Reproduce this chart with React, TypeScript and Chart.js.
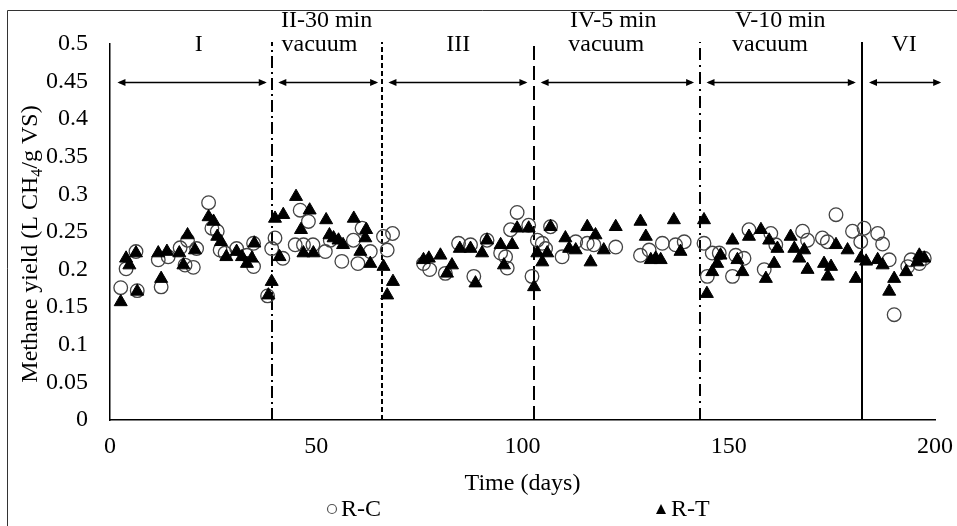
import React, { useEffect, useRef } from "react";
import { Chart, registerables } from "chart.js";

Chart.register(...registerables);

const rcDays = [2.6,3.9,6.3,6.6,11.7,12.4,14.1,17,18.2,18.8,20.2,21,23.9,24.7,26,26.7,27.9,30.7,33.2,34.8,34.8,38.2,39.2,40,41.9,44.9,46.1,46.9,48.1,49.2,52.2,53.4,56.2,59,60.1,61.1,63.1,66.3,67.2,68.5,76,77.5,81.3,84.5,87.4,88.2,91.4,94.7,95.9,96.3,97.1,98.7,101.5,102.3,103.6,104.8,105.6,106.8,109.6,112.9,115.7,117.3,122.6,128.6,130.7,133.9,137.1,139.2,144,144.8,146,147.7,150.9,151.7,153.7,154.9,158.6,160.2,161.4,167.9,169.1,172.7,173.9,176,180,182,182.8,186.1,187.3,188.9,190.1,193.4,194.2,196.2,197.4];
const rcYield = [0.176,0.201,0.224,0.172,0.213,0.177,0.217,0.229,0.206,0.239,0.203,0.228,0.289,0.255,0.251,0.226,0.222,0.228,0.219,0.204,0.235,0.165,0.228,0.242,0.215,0.233,0.279,0.233,0.264,0.233,0.224,0.239,0.211,0.239,0.208,0.255,0.224,0.244,0.226,0.248,0.208,0.2,0.195,0.235,0.233,0.191,0.239,0.222,0.217,0.202,0.253,0.276,0.259,0.191,0.239,0.235,0.228,0.257,0.217,0.237,0.235,0.233,0.23,0.219,0.226,0.235,0.233,0.237,0.235,0.191,0.222,0.222,0.191,0.219,0.215,0.253,0.2,0.248,0.233,0.251,0.239,0.242,0.237,0.273,0.251,0.237,0.255,0.248,0.234,0.213,0.14,0.204,0.213,0.208,0.215];

const rtDays = [2.6,3.9,4.7,6.3,6.6,11.7,12.4,13.8,16.8,17.8,18.8,20.6,23.9,25.1,26,26.9,28.2,30.7,32,33.2,34.4,35,38.4,39.2,40,41.1,42,45.1,46.3,46.9,48.4,49.3,52.4,53.2,54.2,55.4,56.5,59.1,60.7,61.9,62.1,63.1,66.3,67.2,68.6,76,77.3,80.1,81.7,82.9,84.8,87.4,88.6,90.2,91.4,94.7,95.5,97.5,98.7,101.5,102.8,103.6,104.8,106,106.8,110.4,111.3,112.9,115.7,116.5,117.7,119.7,122.6,128.6,129.9,131.1,132.3,133.5,136.7,138.3,144,144.7,146,147.2,148,150.9,152.1,153.3,154.9,157.8,159,159.8,161,161.8,165,165.9,167.1,168.3,169.1,173.1,174,174.8,176,178.8,180.8,182,183.3,186.1,187.3,188.9,190.1,193,195.7,196.2,197.4];
const rtYield = [0.157,0.215,0.206,0.222,0.171,0.222,0.188,0.224,0.222,0.206,0.246,0.226,0.27,0.264,0.244,0.237,0.217,0.224,0.217,0.208,0.215,0.235,0.166,0.184,0.268,0.217,0.273,0.297,0.253,0.222,0.279,0.222,0.266,0.246,0.242,0.239,0.233,0.268,0.224,0.242,0.253,0.208,0.204,0.166,0.184,0.213,0.215,0.219,0.195,0.206,0.228,0.228,0.182,0.222,0.239,0.233,0.206,0.233,0.255,0.255,0.177,0.222,0.21,0.222,0.257,0.242,0.228,0.226,0.257,0.21,0.246,0.226,0.257,0.264,0.244,0.213,0.215,0.213,0.266,0.224,0.266,0.168,0.197,0.208,0.219,0.239,0.213,0.197,0.244,0.253,0.188,0.239,0.208,0.228,0.244,0.228,0.215,0.226,0.2,0.208,0.191,0.204,0.233,0.226,0.188,0.215,0.211,0.213,0.206,0.171,0.188,0.197,0.21,0.219,0.215];

// phase boundaries (days) and their line dash styles
const phaseBoundaries = [39.3, 66, 102.7, 143, 182.3];
const boundaryDashes = [[12, 4, 2, 4], [5, 3], [14, 6], [12, 5, 2, 5], []];
// phase arrows (days)
const arrowStarts = [1.8, 40.8, 67.5, 104.4, 144.6, 184];
const arrowEnds = [38.0, 65.0, 101.2, 141.6, 180.8, 201.5];
// phase labels: first and second lines, and centre day
const phaseLine1 = ["", "II-30 min", "", "IV-5 min", "V-10 min", ""];
const phaseLine2 = ["I", "vacuum", "III", "vacuum", "vacuum", "VI"];
const phaseCentres = [21.5, 52.5, 84.4, 122, 162.5, 192.5];
const phaseLine2Centres = [21.5, 50.8, 84.4, 120.3, 160, 192.5];

const xTicks = [0, 50, 100, 150, 200];
const yMax = 0.5;
const yStep = 0.05;

const FONT = "'Liberation Serif', 'Times New Roman', serif";
const FS = 24;

const overlay = {
  id: "overlay",
  beforeDraw(chart: any) {
    const ctx = chart.ctx;
    ctx.save();
    ctx.fillStyle = "#fff";
    ctx.fillRect(0, 0, chart.width, chart.height);
    ctx.strokeStyle = "#333";
    ctx.lineWidth = 1;
    ctx.beginPath();
    ctx.moveTo(7.5, chart.height);
    ctx.lineTo(7.5, 10.5);
    ctx.lineTo(chart.width, 10.5);
    ctx.stroke();
    ctx.restore();
  },
  beforeDatasetsDraw(chart: any) {
    const ctx = chart.ctx;
    const xs = chart.scales.x;
    const ys = chart.scales.y;
    ctx.save();
    ctx.strokeStyle = "#000";
    ctx.lineWidth = 2;
    phaseBoundaries.forEach((d, i) => {
      const px = Math.round(xs.getPixelForValue(d));
      ctx.setLineDash(boundaryDashes[i]);
      ctx.beginPath();
      ctx.moveTo(px, ys.getPixelForValue(0));
      ctx.lineTo(px, ys.getPixelForValue(yMax) - 2);
      ctx.stroke();
    });
    ctx.setLineDash([]);
    // arrows
    const ay = Math.round(ys.getPixelForValue(0.45)) + 0.5;
    ctx.lineWidth = 1.3;
    ctx.fillStyle = "#000";
    arrowStarts.forEach((s, i) => {
      const x1 = xs.getPixelForValue(s);
      const x2 = xs.getPixelForValue(arrowEnds[i]);
      ctx.beginPath();
      ctx.moveTo(x1 + 2, ay);
      ctx.lineTo(x2 - 2, ay);
      ctx.stroke();
      ctx.beginPath();
      ctx.moveTo(x1, ay);
      ctx.lineTo(x1 + 8, ay - 3.5);
      ctx.lineTo(x1 + 8, ay + 3.5);
      ctx.closePath();
      ctx.fill();
      ctx.beginPath();
      ctx.moveTo(x2, ay);
      ctx.lineTo(x2 - 8, ay - 3.5);
      ctx.lineTo(x2 - 8, ay + 3.5);
      ctx.closePath();
      ctx.fill();
    });
    ctx.restore();
  },
  afterDraw(chart: any) {
    const ctx = chart.ctx;
    const xs = chart.scales.x;
    const ca = chart.chartArea;
    ctx.save();
    ctx.fillStyle = "#000";
    ctx.font = `${FS}px ${FONT}`;
    ctx.textAlign = "center";
    ctx.textBaseline = "middle";
    phaseLine1.forEach((t, i) => {
      if (t) ctx.fillText(t, xs.getPixelForValue(phaseCentres[i]), 21);
    });
    phaseLine2.forEach((t, i) => {
      ctx.fillText(t, xs.getPixelForValue(phaseLine2Centres[i]), 45);
    });
    // x title
    ctx.fillText("Time (days)", (ca.left + ca.right) / 2, 484);
    // y title with subscript
    ctx.translate(31, 244);
    ctx.rotate(-Math.PI / 2);
    const p1 = "Methane yield (L CH";
    const p2 = "4";
    const p3 = "/g VS)";
    const sub = `${Math.round(FS * 0.65)}px ${FONT}`;
    ctx.font = `${FS}px ${FONT}`;
    const w1 = ctx.measureText(p1).width;
    const w3 = ctx.measureText(p3).width;
    ctx.font = sub;
    const w2 = ctx.measureText(p2).width;
    const total = w1 + w2 + w3;
    let x = -total / 2;
    ctx.textAlign = "left";
    ctx.font = `${FS}px ${FONT}`;
    ctx.fillText(p1, x, 0);
    x += w1;
    ctx.font = sub;
    ctx.fillText(p2, x, 7);
    x += w2;
    ctx.font = `${FS}px ${FONT}`;
    ctx.fillText(p3, x, 0);
    ctx.restore();

    // legend
    ctx.save();
    ctx.font = `${FS}px ${FONT}`;
    ctx.textBaseline = "middle";
    ctx.textAlign = "left";
    ctx.fillStyle = "#000";
    ctx.strokeStyle = "#555";
    ctx.lineWidth = 1.2;
    ctx.beginPath();
    ctx.arc(332, 509, 4.5, 0, Math.PI * 2);
    ctx.stroke();
    ctx.fillText("R-C", 341, 510);
    ctx.beginPath();
    ctx.moveTo(661, 504);
    ctx.lineTo(666, 514);
    ctx.lineTo(656, 514);
    ctx.closePath();
    ctx.fill();
    ctx.fillText("R-T", 671, 510);
    ctx.restore();
  },
};

export default function App() {
  const ref = useRef<HTMLCanvasElement>(null);
  useEffect(() => {
    if (!ref.current) return;
    const chart = new Chart(ref.current, {
      type: "scatter",
      data: {
        datasets: [
          {
            label: "R-C",
            data: rcDays.map((d, i) => ({ x: d, y: rcYield[i] })),
            pointStyle: "circle",
            pointRadius: 6.8,
            pointBorderWidth: 1.3,
            pointBorderColor: "#444",
            pointBackgroundColor: "rgba(0,0,0,0)",
            order: 2,
          },
          {
            label: "R-T",
            data: rtDays.map((d, i) => ({ x: d, y: rtYield[i] })),
            pointStyle: "triangle",
            pointRadius: 7.5,
            pointBorderWidth: 1,
            pointBorderColor: "#000",
            pointBackgroundColor: "#000",
            order: 1,
          },
        ],
      },
      plugins: [overlay],
      options: {
        responsive: false,
        animation: false,
        devicePixelRatio: 1,
        layout: { padding: { left: 0, right: 22, top: 44, bottom: 0 } },
        plugins: {
          legend: { display: false },
          tooltip: { enabled: false },
        },
        scales: {
          x: {
            type: "linear",
            min: 0,
            max: 200,
            afterFit: (s: any) => { s.height = 106; s.paddingLeft = 0; s.paddingRight = 0; },
            afterBuildTicks: (s: any) => { s.ticks = xTicks.map((v) => ({ value: v })); },
            grid: { display: false, drawTicks: false },
            border: { display: true, color: "#000", width: 1.5 },
            ticks: {
              color: "#000",
              padding: 12,
              font: { family: FONT, size: FS },
              maxRotation: 0,
            },
          },
          y: {
            min: 0,
            max: yMax,
            afterFit: (s: any) => { s.width = 110; s.paddingTop = 0; s.paddingBottom = 0; },
            grid: { display: false, drawTicks: false },
            border: { display: true, color: "#000", width: 1.5 },
            ticks: {
              stepSize: yStep,
              color: "#000",
              padding: 22,
              font: { family: FONT, size: FS },
              callback: (v: any) => String(+Number(v).toFixed(2)),
            },
          },
        },
      },
    });
    return () => chart.destroy();
  }, []);
  return (
    <div style={{ position: "fixed", left: 0, top: 0, width: 957, height: 526, background: "#fff" }}>
      <canvas ref={ref} width={957} height={526} style={{ width: 957, height: 526, display: "block" }} />
    </div>
  );
}
